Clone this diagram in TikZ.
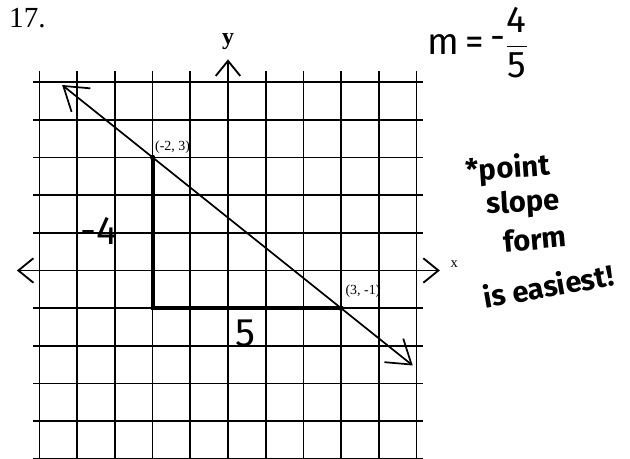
\documentclass[tikz,border=0pt]{standalone}
\usepackage{amsmath}
\usepackage{fontspec}
\setmainfont{Liberation Serif}
\newfontfamily\handfont{Fira Sans}
\usetikzlibrary{arrows.meta}

\begin{document}
\begin{tikzpicture}[x=1cm, y=1cm,
  gridline/.style={line width=1.3pt},
  axisline/.style={line width=1.4pt, {Straight Barb[length=4mm,width=6.5mm]}-{Straight Barb[length=4mm,width=6.5mm]}},
  slopeline/.style={line width=1.3pt, {Straight Barb[length=6mm,width=8mm]}-{Straight Barb[length=6mm,width=8mm]}},
  leg/.style={line width=3pt},
  dot/.style={circle, fill, inner sep=0pt, minimum size=4pt},
  pt/.style={font=\fontsize{10.5}{10.5}\selectfont},
  hand/.style={inner sep=0pt, font=\handfont\bfseries\fontsize{22}{22}\selectfont},
  thinhand/.style={font=\handfont\fontsize{30}{30}\selectfont}]
\useasboundingbox (-6.048,-5.0) rectangle (10.663,7.175);
\foreach \i in {-5,...,5} {
  \draw[gridline] (\i,-5.2) -- (\i,5.3);
  \draw[gridline] (-5.17,\i) -- (5.17,\i);
}
\coordinate (xl) at (-5.6,0);
\coordinate (xr) at (5.62,0);
\coordinate (yb) at (0,-5.2);
\coordinate (yt) at (0,5.6);
\draw[axisline] (xl) -- (xr);
\draw[axisline, {}-{Straight Barb[length=4mm,width=6.5mm]}] (yb) -- (yt);
\node (xlab) at (6.0,0.16) {\fontsize{11}{11}\selectfont x};
\node (ylab) at (0,6.07) {\fontsize{18}{18}\selectfont\bfseries y};
\node (num) at (-5.32,6.70) {\fontsize{22}{22}\selectfont 17.};
\node[dot] (a) at (-2,3) {};
\node[dot] (b) at (3,-1) {};
\coordinate (c) at (-2,-1);
\coordinate (s) at (-4.4,4.92);
\coordinate (e) at (4.9,-2.52);
\draw[slopeline] (s) -- (e);
\draw[leg] (a.center) -- (c) -- (b.center);
\node[pt] (alab) at (-1.47,3.27) {(-2, 3)};
\node[pt] (blab) at (3.58,-0.56) {(3, -1)};
\node[thinhand] (rise) at (-3.42,1.06) {-4};
\node[thinhand] (run) at (0.45,-1.67) {5};
\node[font=\handfont\fontsize{28}{28}\selectfont] (m) at (6.63,6.05) {m\,=\,\raisebox{0.15em}{-}$\dfrac{\text{4}}{\text{5}}$};
\node[hand, rotate=4] (n1) at (7.43,2.68) {*point};
\node[hand, rotate=3] (n2) at (7.82,1.76) {slope};
\node[hand, rotate=5] (n3) at (8.14,0.84) {form};
\node[hand, rotate=10] (n4) at (8.49,-0.40) {is easiest!};
\end{tikzpicture}
\end{document}
